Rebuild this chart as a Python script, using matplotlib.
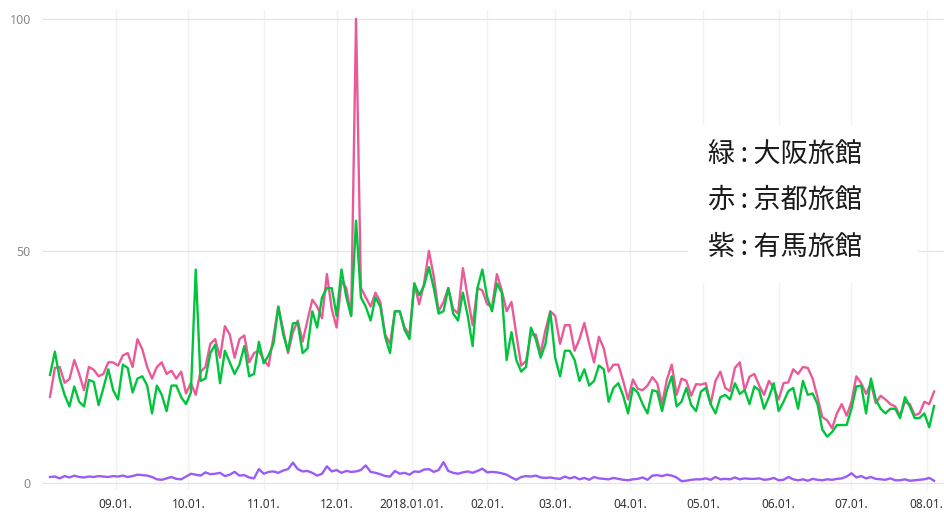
import pandas as pd
import matplotlib
matplotlib.use("Agg")
import matplotlib.pyplot as plt
import matplotlib.dates as mdates
from matplotlib.patches import Rectangle

# every 2nd day, 2017-08-05 .. 2018-08-04
start_date = "2017-08-05"
step = "2D"

osaka = [
    23.3, 28.3, 22.5, 19.0, 16.5, 20.8, 17.5, 16.5, 22.2, 21.8,
    16.8, 20.5, 24.5, 20.0, 18.0, 25.5, 24.8, 19.5, 22.5, 23.0,
    21.0, 15.0, 21.0, 19.0, 15.5, 21.0, 21.0, 18.5, 17.0, 19.5,
    46.0, 22.0, 22.5, 28.0, 29.8, 21.5, 28.5, 26.0, 23.5, 25.5,
    29.5, 23.0, 23.5, 30.4, 25.8, 27.5, 30.0, 38.0, 32.0, 28.5,
    34.4, 34.5, 28.0, 29.0, 37.0, 33.5, 40.0, 42.0, 42.0, 36.0,
    46.0, 40.0, 36.0, 56.5, 40.0, 38.0, 35.0, 40.0, 38.0, 31.5,
    28.0, 37.0, 37.0, 33.0, 31.0, 43.0, 40.5, 42.5, 46.5, 42.0,
    36.5, 37.0, 42.0, 36.5, 35.0, 41.0, 36.0, 29.5, 42.0, 46.0,
    40.0, 37.0, 43.0, 41.0, 26.5, 32.5, 26.5, 24.0, 25.0, 33.5,
    31.0, 27.0, 30.0, 36.9, 27.0, 23.0, 28.5, 28.5, 26.5, 22.0,
    24.5, 21.0, 22.0, 25.3, 24.5, 17.5, 20.5, 21.5, 18.8, 15.0,
    20.5, 19.5, 17.0, 15.0, 20.0, 19.7, 15.5, 20.0, 23.0, 16.5,
    17.5, 20.5, 16.8, 15.5, 19.7, 20.5, 17.0, 15.0, 18.5, 19.0,
    18.0, 21.5, 19.2, 20.0, 17.0, 20.8, 20.0, 16.0, 18.5, 21.5,
    15.5, 17.5, 19.8, 20.5, 16.0, 22.0, 19.0, 19.3, 17.0, 11.5,
    10.0, 11.0, 12.5, 12.5, 12.5, 16.0, 20.8, 21.0, 15.0, 22.5,
    18.0, 16.0, 15.0, 16.0, 16.0, 14.0, 18.5, 16.5, 14.0, 14.0,
    15.0, 12.0, 16.6,
]

kyoto = [
    18.6, 24.8, 25.0, 21.6, 22.4, 26.5, 23.5, 20.0, 25.0, 24.4,
    23.0, 23.5, 26.0, 26.0, 25.3, 27.5, 28.0, 25.0, 31.0, 28.8,
    25.0, 22.5, 25.0, 26.0, 23.5, 24.2, 22.5, 24.0, 19.3, 21.5,
    19.0, 24.0, 25.0, 30.0, 31.0, 27.0, 33.8, 32.0, 27.0, 31.0,
    31.8, 26.0, 28.0, 28.5, 26.5, 25.2, 31.5, 38.0, 33.0, 28.0,
    32.5, 35.0, 30.5, 35.0, 39.5, 38.0, 35.5, 45.0, 37.5, 33.5,
    43.5, 42.0, 36.0, 100.0, 42.0, 40.0, 38.0, 41.0, 39.0, 32.0,
    30.0, 37.0, 37.0, 33.5, 32.0, 43.0, 38.5, 43.0, 50.0, 44.5,
    37.0, 39.0, 42.0, 37.5, 36.5, 46.3, 40.0, 34.0, 42.0, 41.5,
    38.5, 38.0, 45.0, 41.5, 37.0, 39.0, 32.0, 25.3, 26.3, 32.0,
    32.0, 28.0, 33.0, 37.0, 36.0, 30.0, 34.0, 34.0, 28.5, 31.0,
    34.5, 30.0, 26.0, 31.5, 29.0, 24.0, 25.5, 25.5, 22.0, 18.0,
    22.3, 20.3, 20.0, 21.0, 22.8, 21.5, 17.0, 22.3, 25.5, 19.0,
    22.5, 22.0, 18.8, 21.3, 21.2, 21.5, 17.0, 22.0, 24.0, 20.5,
    19.8, 24.8, 26.0, 20.0, 22.9, 23.5, 21.0, 19.0, 22.0, 20.5,
    18.0, 21.5, 21.7, 24.5, 23.5, 25.0, 24.8, 22.5, 18.5, 14.2,
    13.5, 11.8, 15.0, 17.0, 14.5, 17.5, 23.0, 21.5, 19.2, 21.5,
    17.2, 18.8, 18.0, 17.0, 16.5, 14.5, 17.5, 17.0, 14.6, 15.0,
    17.5, 17.0, 19.7,
]

arima = [
    1.3, 1.4, 1.0, 1.5, 1.2, 1.6, 1.3, 1.2, 1.4, 1.3, 1.5, 1.4, 1.3,
    1.5, 1.4, 1.6, 1.3, 1.5, 1.8, 1.7, 1.6, 1.3, 0.8, 0.7, 1.0, 1.3, 0.9, 0.8, 1.4, 2.0,
    1.8, 1.6, 2.3, 1.9, 2.0, 2.2, 1.5, 1.8, 2.4, 1.6, 1.7, 1.2, 1.0, 3.0, 2.0, 2.4,
    2.5, 2.2, 2.7, 3.0, 4.4, 3.0, 2.5, 2.6, 2.2, 1.6, 2.0, 3.6, 2.5, 2.8, 2.2, 2.6, 2.4,
    2.5, 2.8, 3.8, 2.4, 2.2, 1.9, 1.5, 1.4, 2.6, 2.0, 2.2, 1.8, 2.5, 2.4, 2.9, 3.0, 2.4, 2.8,
    4.5, 2.6, 2.2, 2.0, 2.3, 2.5, 2.2, 2.6, 3.1, 2.3, 2.4, 2.3, 2.1, 1.8, 1.2, 0.7, 1.3, 1.5, 1.4,
    1.6, 1.2, 1.1, 1.2, 1.0, 0.9, 1.4, 1.0, 1.3, 0.8, 1.1, 0.7, 1.3, 1.0, 0.9, 0.8, 1.1, 0.9, 0.7, 0.6, 0.8,
    0.9, 1.2, 0.7, 1.6, 1.7, 1.5, 1.8, 1.6, 1.2, 0.4, 0.5, 0.7, 0.8, 0.8, 1.0, 0.7, 1.3, 0.8, 0.9, 0.8,
    1.2, 0.8, 1.0, 0.9, 0.9, 1.0, 0.7, 0.8, 1.1, 0.6, 0.7, 1.3, 0.8, 0.6, 0.8, 0.5, 0.9, 0.7, 0.6, 0.8,
    0.7, 0.9, 1.0, 1.4, 2.1, 1.2, 1.5, 1.0, 1.3, 0.9, 0.8, 0.7, 1.0, 0.6, 0.6, 0.8, 0.5, 0.6, 0.7, 0.8, 1.1, 0.5,
]

month_ticks = pd.date_range("2017-09-01", "2018-08-01", freq="MS")
month_labels = ["09.01.", "10.01.", "11.01.", "12.01.", "2018.01.01.", "02.01.",
                "03.01.", "04.01.", "05.01.", "06.01.", "07.01.", "08.01."]
legend_lines = ["緑\u2009:\u2009大阪旅館", "赤\u2009:\u2009京都旅館", "紫\u2009:\u2009有馬旅館"]

dates = pd.date_range(start_date, periods=len(osaka), freq=step)

W, H = 945, 513
fig = plt.figure(figsize=(W / 100, H / 100), dpi=100)
ax = fig.add_axes([42 / W, (H - 490) / H, 903 / W, 480 / H])

ax.plot(dates, arima, color="#9b5cf6", lw=1.7, zorder=3)
ax.plot(dates, kyoto, color="#ea5a98", lw=1.7, zorder=3)
ax.plot(dates, osaka, color="#00c43c", lw=1.7, zorder=4)

x0 = mdates.date2num(pd.Timestamp("2017-08-05")) - 3.3
x1 = mdates.date2num(pd.Timestamp("2018-08-04")) + 4.5
ax.set_xlim(x0, x1)
ax.set_ylim(-1.5, 101.9)

ax.set_yticks([0, 50, 100])
ax.set_xticks(month_ticks)
ax.set_xticklabels(month_labels)
for s in ax.spines.values():
    s.set_visible(False)
ax.tick_params(axis="both", length=0)
ax.tick_params(axis="y", pad=8, labelsize=9, labelcolor="#888888")
ax.tick_params(axis="x", pad=6, labelsize=8.5, labelcolor="#333333")
for lab in ax.get_xticklabels():
    lab.set_fontfamily("Noto Sans")
    lab.set_fontweight("semibold")
for lab in ax.get_yticklabels():
    lab.set_fontfamily("Noto Sans")

ax.grid(axis="y", color="#e6e6e6", lw=1.0)
ax.grid(axis="x", color="#f2f2f2", lw=1.0)

# white box behind the legend text
ax.add_patch(Rectangle((0.7154, 0.431), 0.255, 0.33, transform=ax.transAxes,
                       facecolor="white", edgecolor="none", zorder=2))
for k, txt in enumerate(legend_lines):
    ax.text(0.7375, [0.698, 0.604, 0.506][k], txt, transform=ax.transAxes,
            fontsize=19.5, va="center", ha="left", color="#1a1a1a",
            family=["Noto Sans CJK JP", "DejaVu Sans"], zorder=5)

fig.savefig("out.png", dpi=100)
